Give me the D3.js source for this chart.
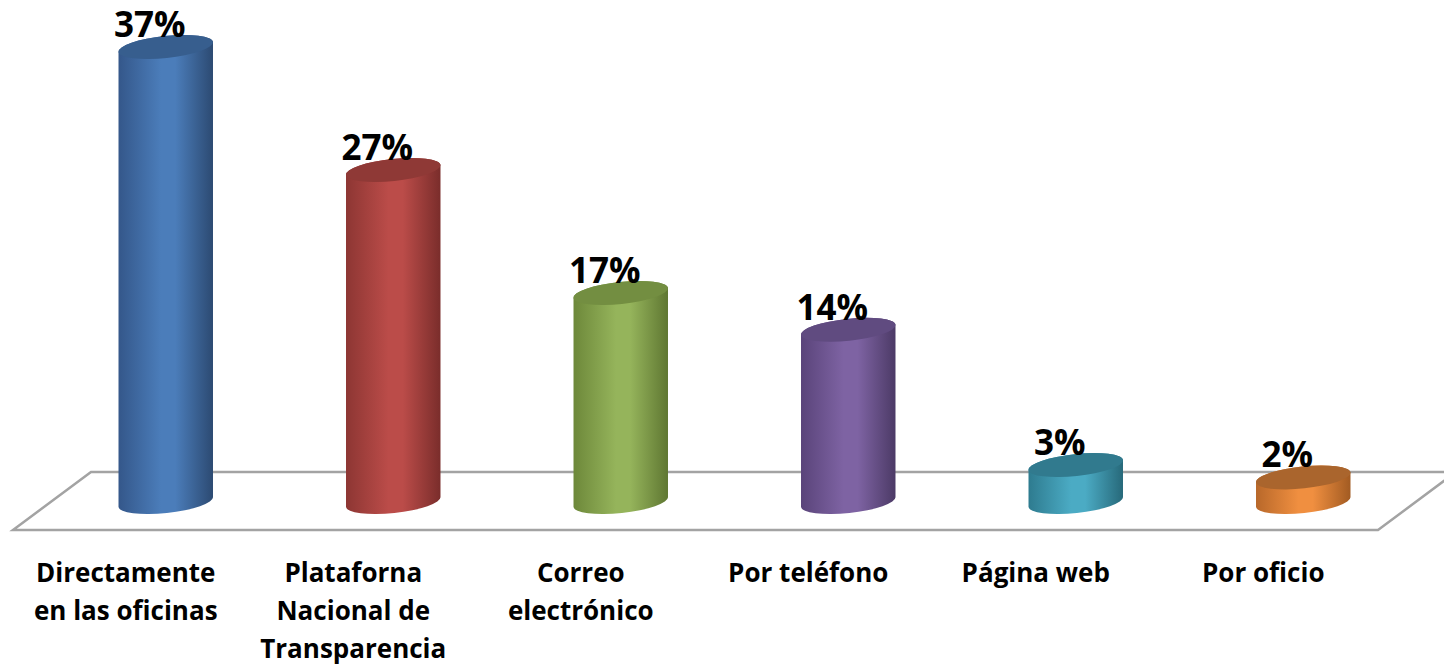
<!DOCTYPE html>
<html>
<head>
<meta charset="utf-8">
<script src="https://cdn.jsdelivr.net/npm/d3@7"></script>
<style>
  body { margin: 0; background: #fff; }
  svg { display: block; }
  text { font-family: "Open Sans", sans-serif; font-weight: 700; fill: #000; }
</style>
</head>
<body>
<svg id="chart" width="1444" height="666"></svg>
<script>
const categories = [
  ['Directamente', 'en las oficinas'],
  ['Plataforna', 'Nacional de', 'Transparencia'],
  ['Correo', 'electrónico'],
  ['Por teléfono'],
  ['Página web'],
  ['Por oficio']
];
const values = [37, 27, 17, 14, 3, 2];
const valueLabels = ['37%', '27%', '17%', '14%', '3%', '2%'];
// side colour (dark edge, light middle, dark edge) and top colour
const sideColors = [
  ['#34578a', '#4b7dba', '#2c4a72'],
  ['#8d3633', '#bb4c49', '#7a2d2b'],
  ['#6d883a', '#95b45b', '#5f7732'],
  ['#5a447a', '#7e63a3', '#4c3a66'],
  ['#2e7b8f', '#4babc4', '#27697a'],
  ['#b8682a', '#f08f40', '#a25b22']
];
const topColors = ['#375e8e', '#8f3936', '#738e41', '#604b80', '#317a8e', '#aa652d'];

const W = 1444, H = 666;
const svg = d3.select('#chart');
const defs = svg.append('defs');

const keys = d3.range(values.length);
const x = d3.scalePoint().domain(keys).range([52, 1417]).padding(0.5);
const y = d3.scaleLinear().domain([0, 37]).range([502, 47]);

const rx = 47.5, ry = 11, tilt = -6; // degrees
const rad = tilt * Math.PI / 180;
const dx = rx * Math.cos(rad), dy = rx * Math.sin(rad);

// floor
const floorBack = 472, floorFront = 530;
svg.append('path')
  .attr('d', `M91,${floorBack} L1456,${floorBack} L1378,${floorFront} L13,${floorFront} Z`)
  .attr('fill', '#fff')
  .attr('stroke', '#a3a3a3')
  .attr('stroke-width', 2.5);

// gradients
keys.forEach(i => {
  const g = defs.append('linearGradient').attr('id', 'side' + i)
    .attr('x1', '0%').attr('x2', '100%').attr('y1', '0%').attr('y2', '0%');
  g.append('stop').attr('offset', '0%').attr('stop-color', sideColors[i][0]);
  g.append('stop').attr('offset', '45%').attr('stop-color', sideColors[i][1]);
  g.append('stop').attr('offset', '60%').attr('stop-color', sideColors[i][1]);
  g.append('stop').attr('offset', '100%').attr('stop-color', sideColors[i][2]);
});

const bars = svg.selectAll('.bar')
  .data(keys)
  .join('g')
    .attr('class', 'bar');

bars.append('path')
  .attr('d', i => {
    const cx = x(i), yt = y(values[i]), yb = y(0);
    return `M${cx - dx},${yt - dy} L${cx - dx},${yb - dy} ` +
      `A${rx},${ry} ${tilt} 0 0 ${cx + dx},${yb + dy} ` +
      `L${cx + dx},${yt + dy} ` +
      `A${rx},${ry} ${tilt} 0 0 ${cx - dx},${yt - dy} Z`;
  })
  .attr('fill', i => `url(#side${i})`);

bars.append('ellipse')
  .attr('cx', i => x(i))
  .attr('cy', i => y(values[i]))
  .attr('rx', rx)
  .attr('ry', ry)
  .attr('transform', i => `rotate(${tilt},${x(i)},${y(values[i])})`)
  .attr('fill', i => topColors[i]);

// value labels
svg.selectAll('.value')
  .data(keys)
  .join('text')
    .attr('class', 'value')
    .attr('x', i => x(i) - 16)
    .attr('y', i => y(values[i]) - ry + 1)
    .attr('text-anchor', 'middle')
    .style('font-size', '35px')
    .text(i => valueLabels[i]);

// category labels
svg.selectAll('.cat')
  .data(keys)
  .join('text')
    .attr('class', 'cat')
    .attr('text-anchor', 'middle')
    .style('font-size', '26px')
    .attr('transform', i => `translate(${x(i) - 40},582)`)
    .selectAll('tspan')
    .data(i => categories[i])
    .join('tspan')
      .attr('x', 0)
      .attr('y', (d, j) => j * 38)
      .text(d => d);
</script>
</body>
</html>
